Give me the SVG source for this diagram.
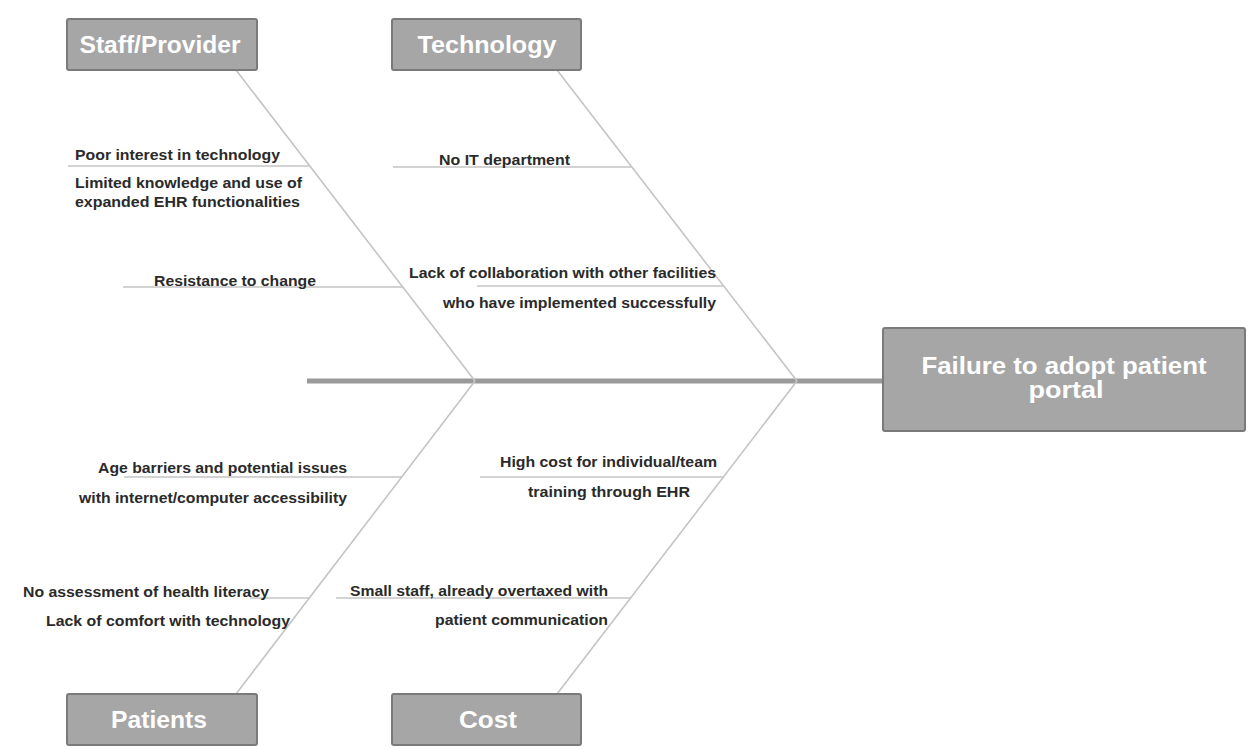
<svg xmlns="http://www.w3.org/2000/svg" width="1250" height="750" viewBox="0 0 1250 750">
<style>
.box{fill:#a6a6a6;stroke:#7a7a7a;stroke-width:2}
.title{font-family:"Liberation Sans",Arial,sans-serif;font-weight:bold;font-size:24px;fill:#ffffff;text-anchor:middle}
.eff{font-family:"Liberation Sans",Arial,sans-serif;font-weight:bold;font-size:23px;fill:#ffffff;text-anchor:middle}
.bone{stroke:#c4c4c4;stroke-width:1.6;fill:none}
.sub{stroke:#c4c4c4;stroke-width:1.6;fill:none}
.spine{stroke:#9a9a9a;stroke-width:5;fill:none}
.lbl{font-family:"Liberation Sans",Arial,sans-serif;font-weight:bold;font-size:14.5px;fill:#2a2a2a}
.e{text-anchor:end}
.m{text-anchor:middle}
</style>
<rect width="1250" height="750" fill="#ffffff"/>
<g id="connectors">
<line class="spine" x1="307" y1="381" x2="884" y2="381"/>
<line class="bone" x1="236" y1="70" x2="475" y2="381"/>
<line class="bone" x1="557" y1="70" x2="797" y2="381"/>
<line class="bone" x1="475" y1="381" x2="236" y2="694"/>
<line class="bone" x1="797" y1="381" x2="557" y2="694"/>
<line class="sub" x1="68" y1="166" x2="310" y2="166"/>
<line class="sub" x1="123" y1="287" x2="403" y2="287"/>
<line class="sub" x1="393" y1="167" x2="632" y2="167"/>
<line class="sub" x1="477" y1="286" x2="723" y2="286"/>
<line class="sub" x1="124" y1="477" x2="402" y2="477"/>
<line class="sub" x1="480" y1="477" x2="724" y2="477"/>
<line class="sub" x1="250" y1="598" x2="309" y2="598"/>
<line class="sub" x1="336" y1="598" x2="631" y2="598"/>
</g>
<g id="staff">
<rect class="box" x="67" y="19" width="190" height="51" rx="2"/>
<text class="title" x="160" y="53" textLength="161" lengthAdjust="spacingAndGlyphs">Staff/Provider</text>
</g>
<g id="technology">
<rect class="box" x="392" y="19" width="189" height="51" rx="2"/>
<text class="title" x="487" y="53" textLength="139" lengthAdjust="spacingAndGlyphs">Technology</text>
</g>
<g id="patients">
<rect class="box" x="67" y="694" width="190" height="51" rx="2"/>
<text class="title" x="159" y="728" textLength="96" lengthAdjust="spacingAndGlyphs">Patients</text>
</g>
<g id="cost">
<rect class="box" x="392" y="694" width="189" height="51" rx="2"/>
<text class="title" x="488" y="728" textLength="58" lengthAdjust="spacingAndGlyphs">Cost</text>
</g>
<g id="effect">
<rect class="box" x="883" y="328" width="362" height="103" rx="2"/>
<text class="eff" x="1064" y="374" textLength="285" lengthAdjust="spacingAndGlyphs">Failure to adopt patient</text>
<text class="eff" x="1066" y="398" textLength="75" lengthAdjust="spacingAndGlyphs">portal</text>
</g>
<g id="causes">
<text class="lbl" x="75" y="160" textLength="205" lengthAdjust="spacingAndGlyphs">Poor interest in technology</text>
<text class="lbl" x="75" y="188" textLength="227" lengthAdjust="spacingAndGlyphs">Limited knowledge and use of</text>
<text class="lbl" x="75" y="207" textLength="225" lengthAdjust="spacingAndGlyphs">expanded EHR functionalities</text>
<text class="lbl" x="154" y="286" textLength="162" lengthAdjust="spacingAndGlyphs">Resistance to change</text>
<text class="lbl" x="439" y="165" textLength="131" lengthAdjust="spacingAndGlyphs">No IT department</text>
<text class="lbl" x="409" y="278" textLength="307" lengthAdjust="spacingAndGlyphs">Lack of collaboration with other facilities</text>
<text class="lbl" x="443" y="308" textLength="273" lengthAdjust="spacingAndGlyphs">who have implemented successfully</text>
<text class="lbl" x="98" y="473" textLength="249" lengthAdjust="spacingAndGlyphs">Age barriers and potential issues</text>
<text class="lbl" x="79" y="503" textLength="268" lengthAdjust="spacingAndGlyphs">with internet/computer accessibility</text>
<text class="lbl" x="500" y="467" textLength="217" lengthAdjust="spacingAndGlyphs">High cost for individual/team</text>
<text class="lbl" x="528" y="497" textLength="162" lengthAdjust="spacingAndGlyphs">training through EHR</text>
<text class="lbl" x="23" y="597" textLength="246" lengthAdjust="spacingAndGlyphs">No assessment of health literacy</text>
<text class="lbl" x="46" y="626" textLength="244" lengthAdjust="spacingAndGlyphs">Lack of comfort with technology</text>
<text class="lbl" x="350" y="596" textLength="258" lengthAdjust="spacingAndGlyphs">Small staff, already overtaxed with</text>
<text class="lbl" x="435" y="625" textLength="173" lengthAdjust="spacingAndGlyphs">patient communication</text>
</g>
</svg>
